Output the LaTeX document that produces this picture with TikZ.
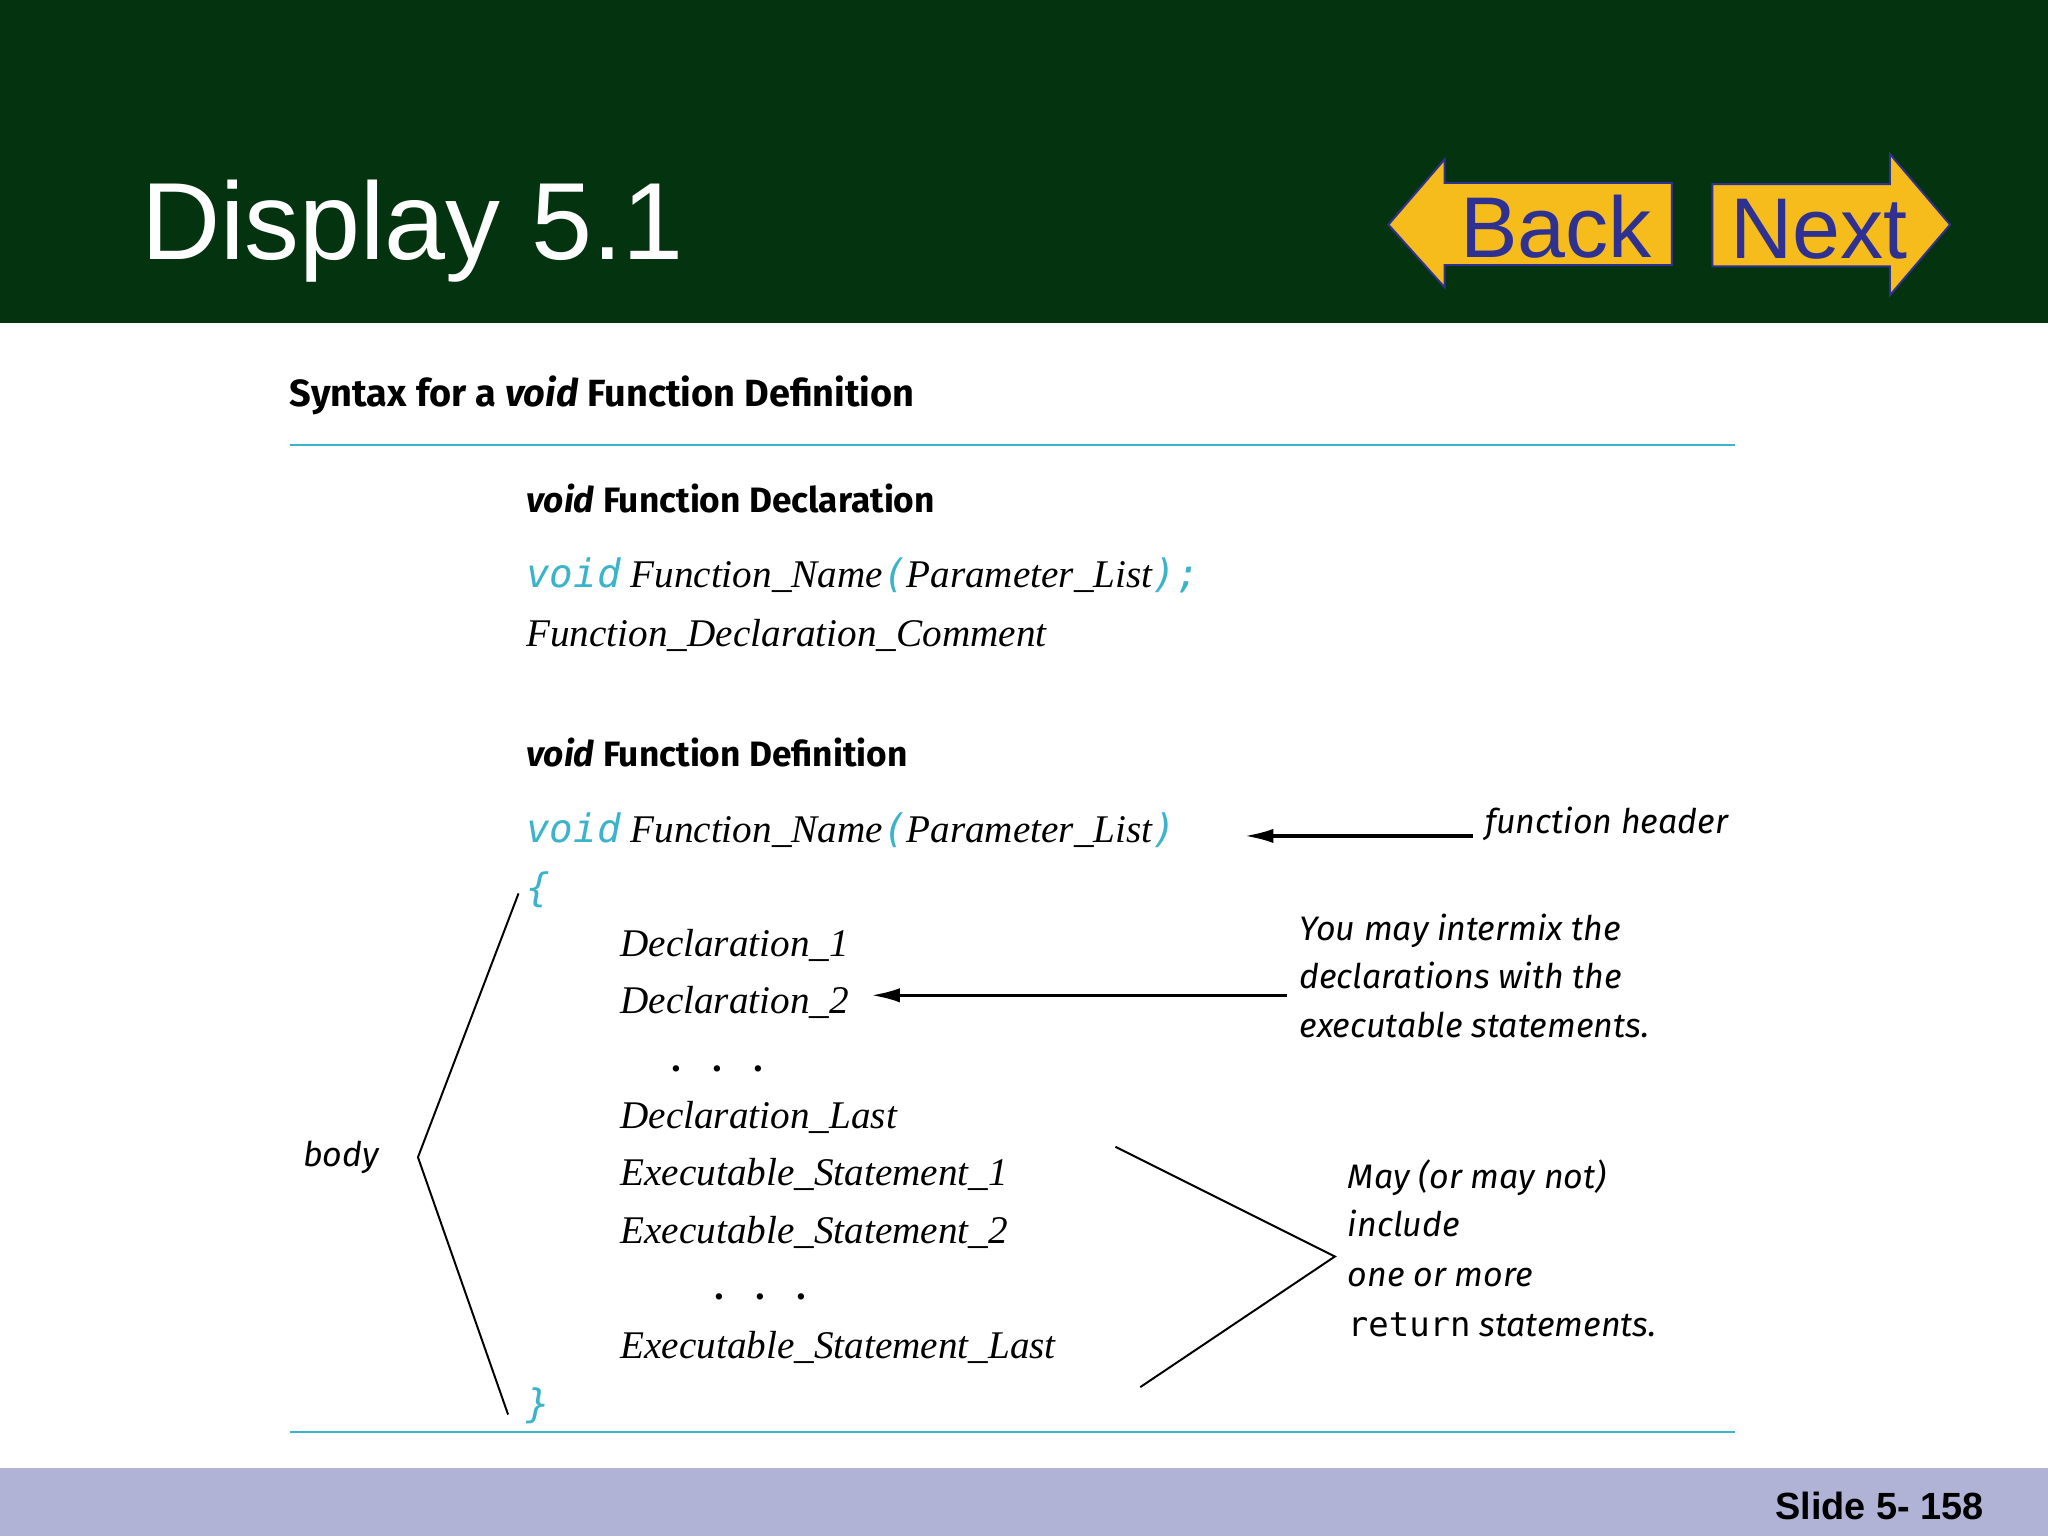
\documentclass[tikz,border=0pt]{standalone}
\usepackage{fontspec}
\usetikzlibrary{arrows.meta}
\setmainfont{Liberation Serif}
\newfontfamily\hfont{Liberation Sans}
\newfontfamily\sfont{Fira Sans}
\newfontfamily\mfont{DejaVu Sans Mono}
\newfontfamily\afont{Fira Sans}
\definecolor{hdr}{HTML}{04330F}
\definecolor{ylw}{HTML}{F5BC1C}
\definecolor{nblue}{HTML}{2E3192}
\definecolor{cy}{HTML}{3BB3C8}
\definecolor{foot}{HTML}{B0B3D6}
\newcommand{\cv}[1]{{\mfont\color{cy}#1}}
\tikzset{
  tx/.style={anchor=base west,inner sep=0pt,outer sep=0pt},
  code/.style={tx,font=\fontsize{30}{36}\selectfont\itshape},
  head/.style={tx,font=\fontsize{29}{34}\selectfont\sfont\bfseries},
  ann/.style={tx,font=\fontsize{26}{32}\selectfont\afont\itshape},
  thin/.style={line width=1.5pt},
}
\begin{document}
\begin{tikzpicture}[x=1pt,y=-1pt]
\useasboundingbox (0,0) rectangle (1568,1176);
\fill[white] (0,0) rectangle (1568,1176);
\fill[hdr] (0,0) rectangle (1568,247);
\fill[foot] (0,1124) rectangle (1568,1176);
\node[tx,font=\fontsize{84}{90}\selectfont\hfont,white] (title) at (108,199) {Display 5.1};
% Back
\filldraw[fill=ylw,draw=nblue,line width=1.5pt] (1063,172) -- (1106,122) -- (1106,140) -- (1280,140) -- (1280,203) -- (1106,203) -- (1106,220) -- cycle;
\node[tx,font=\fontsize{66}{70}\selectfont\hfont,nblue] (back) at (1118,197) {Back};
% Next
\filldraw[fill=ylw,draw=nblue,line width=1.5pt] (1311,141) -- (1447,141) -- (1447,118) -- (1493,172) -- (1447,226) -- (1447,204) -- (1311,204) -- cycle;
\node[tx,font=\fontsize{66}{70}\selectfont\hfont,nblue] (next) at (1325,198) {Next};
\node[anchor=base east,inner sep=0pt,font=\fontsize{29}{32}\selectfont\hfont\bfseries] (slide) at (1519,1163) {Slide 5- 158};
% body
\node[head] (syn) at (222,311) {Syntax for a \textit{void} Function Definition};
\draw[cy,line width=1.5pt] (222,341) -- (1328,341);
\draw[cy,line width=1.5pt] (222,1096) -- (1328,1096);
\node[head,font=\fontsize{27}{32}\selectfont\sfont\bfseries] (h1) at (403,392) {\textit{void} Function Declaration};
\node[code] (d1) at (403,450) {\cv{void} Function\_Name\cv{(}Parameter\_List\cv{);}};
\node[code] (d2) at (403,495) {Function\_Declaration\_Comment};
\node[head,font=\fontsize{27}{32}\selectfont\sfont\bfseries] (h2) at (403,587) {\textit{void} Function Definition};
\node[code] (f1) at (403,645) {\cv{void} Function\_Name\cv{(}Parameter\_List\cv{)}};
\node[code] (lb) at (403,690) {\cv{\{}};
\node[code] (dec1) at (475,732) {Declaration\_1};
\node[code] (dec2) at (475,776) {Declaration\_2};
\node[code,font=\fontsize{30}{36}\selectfont\bfseries] (dots1) at (514,820) {.\hspace{24pt}.\hspace{24pt}.};
\node[code] (decl) at (475,864) {Declaration\_Last};
\node[code] (ex1) at (475,908) {Executable\_Statement\_1};
\node[code] (ex2) at (475,952) {Executable\_Statement\_2};
\node[code,font=\fontsize{30}{36}\selectfont\bfseries] (dots2) at (547,995) {.\hspace{24pt}.\hspace{24pt}.};
\node[code] (exl) at (475,1040) {Executable\_Statement\_Last};
\node[code] (rb) at (403,1085) {\cv{\}}};
% annotations
\node[ann] (fh) at (1137,638) {function header};
\coordinate (fa) at (1128,640);
\coordinate (fb) at (953,640);
\draw[line width=2.5pt,-{Latex[length=22pt,width=11pt]}] (fa) -- (fb);
\node[ann,align=left] (mix) at (995,720) {You may intermix the};
\node[ann] (mix2) at (995,757) {declarations with the};
\node[ann] (mix3) at (995,794) {executable statements.};
\coordinate (ma) at (985,762);
\coordinate (mb) at (667,762);
\draw[line width=2.5pt,-{Latex[length=22pt,width=11pt]}] (ma) -- (mb);
\node[ann] (body) at (232,893) {body};
\coordinate (b1) at (397,684);
\coordinate (b2) at (320,886);
\coordinate (b3) at (389,1083);
\draw[thin] (b1) -- (b2) -- (b3);
\coordinate (r1) at (854,878);
\coordinate (r2) at (1022,962);
\coordinate (r3) at (873,1062);
\draw[thin] (r1) -- (r2) -- (r3);
\node[ann] (m1) at (1032,910) {May (or may not)};
\node[ann] (m2) at (1032,947) {include};
\node[ann] (m3) at (1032,985) {one or more};
\node[ann] (m4) at (1032,1023) {{\upshape\mfont return} statements.};
\end{tikzpicture}
\end{document}
